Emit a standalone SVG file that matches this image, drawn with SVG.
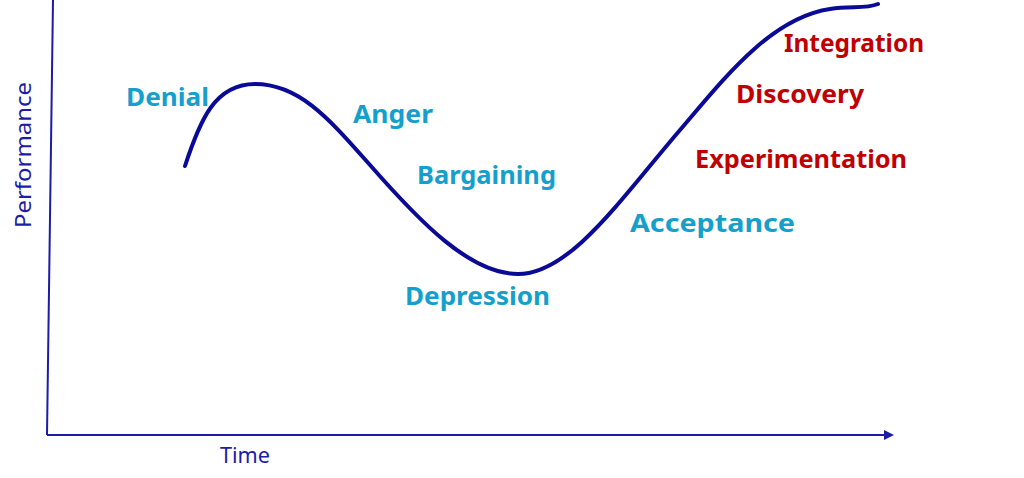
<svg xmlns="http://www.w3.org/2000/svg" width="1024" height="478" viewBox="0 0 1024 478">
<style>
.stage{font-family:"Noto Sans","Liberation Sans",sans-serif;font-weight:bold;font-size:25px}
.blue{fill:#159fcd}
.red{fill:#c00000}
.axis{stroke:#1c1ca8;stroke-width:2;fill:none}
.axlabel{font-family:"Noto Sans","Liberation Sans",sans-serif;font-size:22px;fill:#1c1ca8}
</style>
<defs>
<marker id="arr" markerWidth="10" markerHeight="10" refX="8" refY="5" orient="auto" markerUnits="userSpaceOnUse">
<path d="M0,0 L10,5 L0,10 Z" fill="#1c1ca8"/>
</marker>
</defs>
<g id="connectors">
<path class="axis" d="M53,0 L47,435"/>
<path class="axis" d="M47,435 L892,435" marker-end="url(#arr)"/>
<path d="M185,166 C200,120 215,84 255,84 C300,84 330,120 370,165 C420,222 470,274 518,274 C570,274 620,200 680,130 C723,79.8 770,18 830,9 C852,6 866,9 878,4" fill="none" stroke="#0a0a96" stroke-width="4" stroke-linecap="round"/>
</g>
<g id="axis-y-label"><text class="axlabel" transform="translate(31,155) rotate(-90)" text-anchor="middle" textLength="146" lengthAdjust="spacingAndGlyphs">Performance</text></g>
<g id="axis-x-label"><text class="axlabel" x="245" y="463" text-anchor="middle" textLength="50" lengthAdjust="spacingAndGlyphs">Time</text></g>
<g id="denial"><text class="stage blue" x="126" y="106" textLength="83" lengthAdjust="spacingAndGlyphs">Denial</text></g>
<g id="anger"><text class="stage blue" x="353" y="123" textLength="80" lengthAdjust="spacingAndGlyphs">Anger</text></g>
<g id="bargaining"><text class="stage blue" x="417" y="184" textLength="139" lengthAdjust="spacingAndGlyphs">Bargaining</text></g>
<g id="depression"><text class="stage blue" x="405" y="305" textLength="145" lengthAdjust="spacingAndGlyphs">Depression</text></g>
<g id="acceptance"><text class="stage blue" x="630" y="232" textLength="165" lengthAdjust="spacingAndGlyphs">Acceptance</text></g>
<g id="experimentation"><text class="stage red" x="695" y="168" textLength="212" lengthAdjust="spacingAndGlyphs">Experimentation</text></g>
<g id="discovery"><text class="stage red" x="736" y="103" textLength="128" lengthAdjust="spacingAndGlyphs">Discovery</text></g>
<g id="integration"><text class="stage red" x="784" y="52" textLength="140" lengthAdjust="spacingAndGlyphs">Integration</text></g>
</svg>
